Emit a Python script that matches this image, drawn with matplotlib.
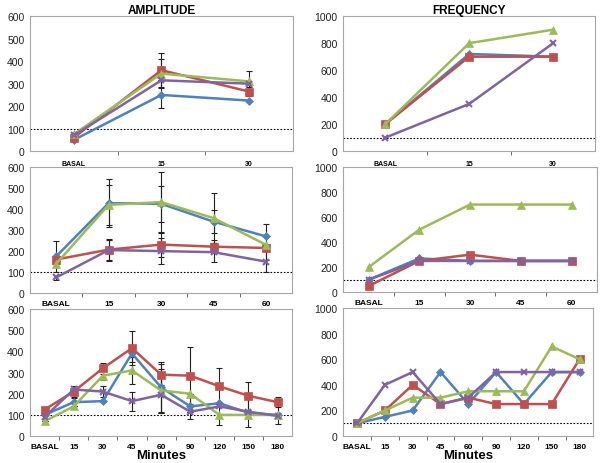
import matplotlib.pyplot as plt

plt.rcParams["font.family"] = ["Liberation Sans", "DejaVu Sans"]

# categories
cats_short = ["BASAL", "15", "30"]
cats_mid = ["BASAL", "15", "30", "45", "60"]
cats_long = ["BASAL", "15", "30", "45", "60", "90", "120", "150", "180"]

# amplitude, short experiment
amp1_blue = [50, 250, 225]
amp1_red = [60, 360, 265]
amp1_green = [75, 345, 310]
amp1_purple = [70, 315, 300]
amp1_blue_err = [0, 60, 0]
amp1_red_err = [0, 75, 20]
amp1_green_err = [0, 65, 45]
amp1_purple_err = [0, 0, 0]

# frequency, short experiment
frq1_blue = [200, 720, 700]
frq1_red = [200, 700, 700]
frq1_green = [200, 800, 900]
frq1_purple = [100, 350, 800]

# amplitude, 60 min
amp2_blue = [175, 428, 425, 340, 270]
amp2_red = [160, 207, 231, 221, 215]
amp2_green = [140, 420, 433, 357, 230]
amp2_purple = [75, 205, 200, 195, 150]
amp2_blue_err = [75, 115, 85, 55, 60]
amp2_red_err = [0, 50, 60, 30, 55]
amp2_green_err = [0, 95, 145, 120, 0]
amp2_purple_err = [10, 50, 60, 45, 50]

# frequency, 60 min
frq2_blue = [100, 270, 250, 250, 250]
frq2_red = [50, 250, 300, 250, 250]
frq2_green = [200, 500, 700, 700, 700]
frq2_purple = [100, 250, 250, 250, 250]

# amplitude, 180 min
amp3_blue = [100, 160, 165, 390, 230, 140, 155, 110, 100]
amp3_red = [125, 210, 320, 415, 290, 285, 235, 190, 160]
amp3_green = [70, 140, 285, 310, 215, 200, 100, 100, 100]
amp3_purple = [90, 220, 210, 165, 195, 115, 140, 115, 95]
amp3_blue_err = [0, 20, 0, 40, 120, 60, 0, 65, 45]
amp3_red_err = [10, 25, 25, 80, 50, 135, 85, 65, 25]
amp3_green_err = [0, 0, 20, 65, 100, 0, 50, 0, 0]
amp3_purple_err = [10, 0, 25, 45, 85, 0, 0, 0, 0]

# frequency, 180 min
frq3_blue = [100, 150, 200, 500, 250, 500, 250, 500, 500]
frq3_red = [100, 200, 400, 250, 300, 250, 250, 250, 600]
frq3_green = [100, 200, 300, 300, 350, 350, 350, 700, 600]
frq3_purple = [100, 400, 500, 250, 300, 500, 500, 500, 500]

colors = {"blue": "#4F81BD", "red": "#C0504D", "green": "#9BBB59", "purple": "#8064A2"}
markers = {"blue": ("D", 4), "red": ("s", 6), "green": ("^", 6), "purple": ("x", 5)}

fig = plt.figure(figsize=(6, 4.64), dpi=100)


def panel(rect, cats, series, errs, ymax, ystep, xfont, xpad):
    ax = fig.add_axes(rect)
    x = list(range(len(cats)))
    for name in ["blue", "red", "green", "purple"]:
        m, ms = markers[name]
        if errs is not None:
            ax.errorbar(x, series[name], yerr=errs[name], fmt="none",
                        ecolor="#222222", elinewidth=0.8, capsize=2, capthick=0.8, zorder=2)
        ax.plot(x, series[name], color=colors[name], lw=1.8, marker=m, ms=ms,
                mew=1.5 if m == "x" else 0.5, zorder=3)
    ax.axhline(100, color="black", lw=0.8, ls=(0, (1.5, 1.5)), zorder=1)
    ax.set_xlim(-0.5, len(cats) - 0.5)
    ax.set_ylim(0, ymax)
    ax.set_yticks(range(0, ymax + 1, ystep))
    ax.set_xticks(x)
    ax.set_xticklabels(cats, fontsize=xfont, fontweight="bold")
    ax.set_xticks([i + 0.5 for i in x[:-1]], minor=True)
    ax.tick_params(axis="x", which="major", length=0, pad=xpad)
    ax.tick_params(axis="x", which="minor", length=3, color="#555555", direction="out")
    ax.tick_params(axis="y", length=0, labelsize=7.5, pad=4, labelcolor="#222222")
    for s in ax.spines.values():
        s.set_color("#A6A6A6")
        s.set_linewidth(0.8)
    return ax


def group(b, r, g, p):
    return {"blue": b, "red": r, "green": g, "purple": p}


ax = panel([0.05, 0.672, 0.438, 0.291], cats_short,
           group(amp1_blue, amp1_red, amp1_green, amp1_purple),
           group(amp1_blue_err, amp1_red_err, amp1_green_err, amp1_purple_err),
           600, 100, 5, 6)
ax.set_title("AMPLITUDE", fontsize=8.5, fontweight="bold", pad=2)

ax = panel([0.572, 0.672, 0.42, 0.291], cats_short,
           group(frq1_blue, frq1_red, frq1_green, frq1_purple), None,
           1000, 200, 5, 6)
ax.set_title("FREQUENCY", fontsize=8.5, fontweight="bold", pad=2)

panel([0.05, 0.366, 0.437, 0.272], cats_mid,
      group(amp2_blue, amp2_red, amp2_green, amp2_purple),
      group(amp2_blue_err, amp2_red_err, amp2_green_err, amp2_purple_err),
      600, 100, 6, 5)

panel([0.572, 0.368, 0.423, 0.270], cats_mid,
      group(frq2_blue, frq2_red, frq2_green, frq2_purple), None,
      1000, 200, 6, 5)

ax = panel([0.05, 0.058, 0.437, 0.274], cats_long,
           group(amp3_blue, amp3_red, amp3_green, amp3_purple),
           group(amp3_blue_err, amp3_red_err, amp3_green_err, amp3_purple_err),
           600, 100, 6, 5)
ax.set_xlabel("Minutes", fontsize=9.5, fontweight="bold", labelpad=-1)

ax = panel([0.572, 0.058, 0.417, 0.276], cats_long,
           group(frq3_blue, frq3_red, frq3_green, frq3_purple), None,
           1000, 200, 6, 5)
ax.set_xlabel("Minutes", fontsize=9.5, fontweight="bold", labelpad=-1)

fig.savefig("out.png", dpi=100)
